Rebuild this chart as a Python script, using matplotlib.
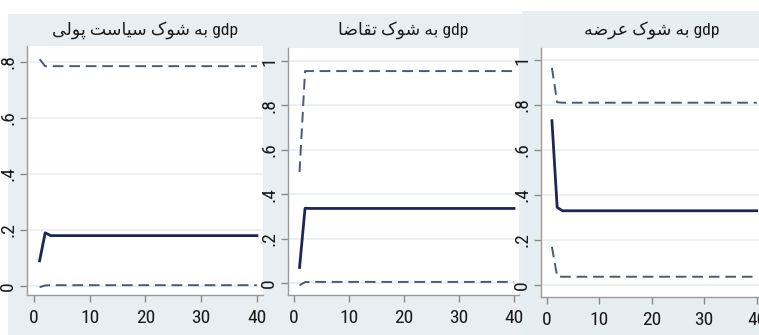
import numpy as np
import matplotlib.pyplot as plt
from matplotlib.patches import Rectangle
from matplotlib import font_manager

#*---------- data ----------
steps = np.arange(1, 41)

titles = ['gdp به شوک سیاست پولی', 'gdp به شوک تقاضا', 'gdp به شوک عرضه']

money_irf = [0.09, 0.19, 0.18, 0.18, 0.18, 0.18, 0.18, 0.18, 0.18, 0.18,
             0.18, 0.18, 0.18, 0.18, 0.18, 0.18, 0.18, 0.18, 0.18, 0.18,
             0.18, 0.18, 0.18, 0.18, 0.18, 0.18, 0.18, 0.18, 0.18, 0.18,
             0.18, 0.18, 0.18, 0.18, 0.18, 0.18, 0.18, 0.18, 0.18, 0.18]
money_up  = [0.81, 0.785, 0.785, 0.785, 0.785, 0.785, 0.785, 0.785, 0.785, 0.785,
             0.785, 0.785, 0.785, 0.785, 0.785, 0.785, 0.785, 0.785, 0.785, 0.785,
             0.785, 0.785, 0.785, 0.785, 0.785, 0.785, 0.785, 0.785, 0.785, 0.785,
             0.785, 0.785, 0.785, 0.785, 0.785, 0.785, 0.785, 0.785, 0.785, 0.785]
money_lo  = [-0.004, 0.002, 0.003, 0.003, 0.003, 0.003, 0.003, 0.003, 0.003, 0.003,
             0.003, 0.003, 0.003, 0.003, 0.003, 0.003, 0.003, 0.003, 0.003, 0.003,
             0.003, 0.003, 0.003, 0.003, 0.003, 0.003, 0.003, 0.003, 0.003, 0.003,
             0.003, 0.003, 0.003, 0.003, 0.003, 0.003, 0.003, 0.003, 0.003, 0.003]

demand_irf = [0.07, 0.337, 0.336, 0.336, 0.336, 0.336, 0.336, 0.336, 0.336, 0.336,
              0.336, 0.336, 0.336, 0.336, 0.336, 0.336, 0.336, 0.336, 0.336, 0.336,
              0.336, 0.336, 0.336, 0.336, 0.336, 0.336, 0.336, 0.336, 0.336, 0.336,
              0.336, 0.336, 0.336, 0.336, 0.336, 0.336, 0.336, 0.336, 0.336, 0.336]
demand_up  = [0.50, 0.955, 0.955, 0.955, 0.955, 0.955, 0.955, 0.955, 0.955, 0.955,
              0.955, 0.955, 0.955, 0.955, 0.955, 0.955, 0.955, 0.955, 0.955, 0.955,
              0.955, 0.955, 0.955, 0.955, 0.955, 0.955, 0.955, 0.955, 0.955, 0.955,
              0.955, 0.955, 0.955, 0.955, 0.955, 0.955, 0.955, 0.955, 0.955, 0.955]
demand_lo  = [-0.01, 0.004, 0.005, 0.005, 0.005, 0.005, 0.005, 0.005, 0.005, 0.005,
              0.005, 0.005, 0.005, 0.005, 0.005, 0.005, 0.005, 0.005, 0.005, 0.005,
              0.005, 0.005, 0.005, 0.005, 0.005, 0.005, 0.005, 0.005, 0.005, 0.005,
              0.005, 0.005, 0.005, 0.005, 0.005, 0.005, 0.005, 0.005, 0.005, 0.005]

supply_irf = [0.73, 0.345, 0.33, 0.33, 0.33, 0.33, 0.33, 0.33, 0.33, 0.33,
              0.33, 0.33, 0.33, 0.33, 0.33, 0.33, 0.33, 0.33, 0.33, 0.33,
              0.33, 0.33, 0.33, 0.33, 0.33, 0.33, 0.33, 0.33, 0.33, 0.33,
              0.33, 0.33, 0.33, 0.33, 0.33, 0.33, 0.33, 0.33, 0.33, 0.33]
supply_up  = [0.965, 0.812, 0.81, 0.81, 0.81, 0.81, 0.81, 0.81, 0.81, 0.81,
              0.81, 0.81, 0.81, 0.81, 0.81, 0.81, 0.81, 0.81, 0.81, 0.81,
              0.81, 0.81, 0.81, 0.81, 0.81, 0.81, 0.81, 0.81, 0.81, 0.81,
              0.81, 0.81, 0.81, 0.81, 0.81, 0.81, 0.81, 0.81, 0.81, 0.81]
supply_lo  = [0.17, 0.038, 0.037, 0.037, 0.037, 0.037, 0.037, 0.037, 0.037, 0.037,
              0.037, 0.037, 0.037, 0.037, 0.037, 0.037, 0.037, 0.037, 0.037, 0.037,
              0.037, 0.037, 0.037, 0.037, 0.037, 0.037, 0.037, 0.037, 0.037, 0.037,
              0.037, 0.037, 0.037, 0.037, 0.037, 0.037, 0.037, 0.037, 0.037, 0.037]

yticks_short = [0, 0.2, 0.4, 0.6, 0.8]
yticks_long = [0, 0.2, 0.4, 0.6, 0.8, 1]
xticks = [0, 10, 20, 30, 40]

#*---------- persian shaping (matplotlib has no rtl support) ----------
FORMS = {  # isolated, final, initial, medial
  'ا': ('\uFE8D', '\uFE8E', None, None),
  'ب': ('\uFE8F', '\uFE90', '\uFE91', '\uFE92'),
  'پ': ('\uFB56', '\uFB57', '\uFB58', '\uFB59'),
  'ت': ('\uFE95', '\uFE96', '\uFE97', '\uFE98'),
  'ر': ('\uFEAD', '\uFEAE', None, None),
  'س': ('\uFEB1', '\uFEB2', '\uFEB3', '\uFEB4'),
  'ش': ('\uFEB5', '\uFEB6', '\uFEB7', '\uFEB8'),
  'ض': ('\uFEBD', '\uFEBE', '\uFEBF', '\uFEC0'),
  'ع': ('\uFEC9', '\uFECA', '\uFECB', '\uFECC'),
  'ق': ('\uFED5', '\uFED6', '\uFED7', '\uFED8'),
  'ک': ('\uFB8E', '\uFB8F', '\uFB90', '\uFB91'),
  'ل': ('\uFEDD', '\uFEDE', '\uFEDF', '\uFEE0'),
  'و': ('\uFEED', '\uFEEE', None, None),
  'ه': ('\uFEE9', '\uFEEA', '\uFEEB', '\uFEEC'),
  'ی': ('\uFBFC', '\uFBFD', '\uFBFE', '\uFBFF'),
}

def shape_word(w):
  if not all(c in FORMS for c in w):
    return w
  out = []
  for i, ch in enumerate(w):
    iso, fin, ini, med = FORMS[ch]
    joined_prev = i > 0 and FORMS[w[i-1]][2] is not None
    joins_next = ini is not None and i < len(w) - 1
    if joined_prev and joins_next:
      out.append(med)
    elif joined_prev:
      out.append(fin)
    elif joins_next:
      out.append(ini)
    else:
      out.append(iso)
  return ''.join(reversed(out))

def rtl(s):
  return ' '.join(shape_word(w) for w in reversed(s.split()))

#*---------- figure ----------
W, H = 759, 335
fig = plt.figure(figsize=(W/100, H/100), dpi=100)
fig.patch.set_facecolor('white')

bg = '#e8eef2'
fig.patches.append(Rectangle((8/W, 0), (522-8)/W, (H-14)/H, transform=fig.transFigure,
                             facecolor=bg, edgecolor='none', zorder=-5))
fig.patches.append(Rectangle((522/W, 0), (W-522)/W, (H-11)/H, transform=fig.transFigure,
                             facecolor='#e7eef2', edgecolor='none', zorder=-5))

def box(l, t, r, b):
  return [l/W, 1 - b/H, (r-l)/W, (b-t)/H]

have = {f.name for f in font_manager.fontManager.ttflist}
narrow = [f for f in ['Liberation Sans Narrow', 'Roboto Condensed', 'Liberation Sans'] if f in have][:1] + ['DejaVu Sans']
navy = '#1b2755'
dash_col = '#4d5877'

panels = [
  (box(27, 46, 263, 295), (-1.26, 41.1), (-0.032, 0.857), yticks_short, money_irf, money_up, money_lo),
  (box(288, 48, 519, 295), (-1.1, 40.9), (-0.054, 1.059), yticks_long, demand_irf, demand_up, demand_lo),
  (box(541, 48, 762, 297), (-1.08, 41.0), (-0.053, 1.053), yticks_long, supply_irf, supply_up, supply_lo),
]

for k, (pos, xl, yl, yt, irf, up, lo) in enumerate(panels):
  ax = fig.add_axes(pos)
  ax.set_facecolor('white')
  for yv in yt:
    ax.axhline(yv, color='#e9eff2', lw=1.3, zorder=1)
  ax.plot(steps, up, color=dash_col, lw=1.4, ls=(0, (5.5, 3)), zorder=3)
  ax.plot(steps, lo, color=dash_col, lw=1.4, ls=(0, (5.5, 3)), zorder=3)
  ax.plot(steps, irf, color=navy, lw=2.0, zorder=4)
  ax.set_xlim(xl)
  ax.set_ylim(yl)
  ax.set_xticks(xticks)
  ax.set_yticks(yt)
  ax.set_yticklabels(['0' if v == 0 else ('1' if v == 1 else ('%.1f' % v)[1:]) for v in yt],
                     rotation=90, va='center')
  for lab in ax.get_xticklabels() + ax.get_yticklabels():
    lab.set_family(narrow)
    lab.set_fontsize(14)
    lab.set_color('#1a1a1a')
  ax.tick_params(axis='x', direction='out', length=5, width=1, color='#8a8a8a', pad=5)
  ax.tick_params(axis='y', direction='out', length=5, width=1, color='#8a8a8a', pad=2)
  for s in ['top', 'right']:
    ax.spines[s].set_visible(False)
  for s in ['left', 'bottom']:
    ax.spines[s].set_color('#9a9a9a')
    ax.spines[s].set_linewidth(1)
  cx = (pos[0] + pos[2]/2)
  if k == 2:
    cx = 652/W
  fig.text(cx, 1 - 30/H, rtl(titles[k]), ha='center', va='center',
           family=narrow, fontsize=12.5, color='#1a1a1a')

fig.savefig('out.png', dpi=100)
